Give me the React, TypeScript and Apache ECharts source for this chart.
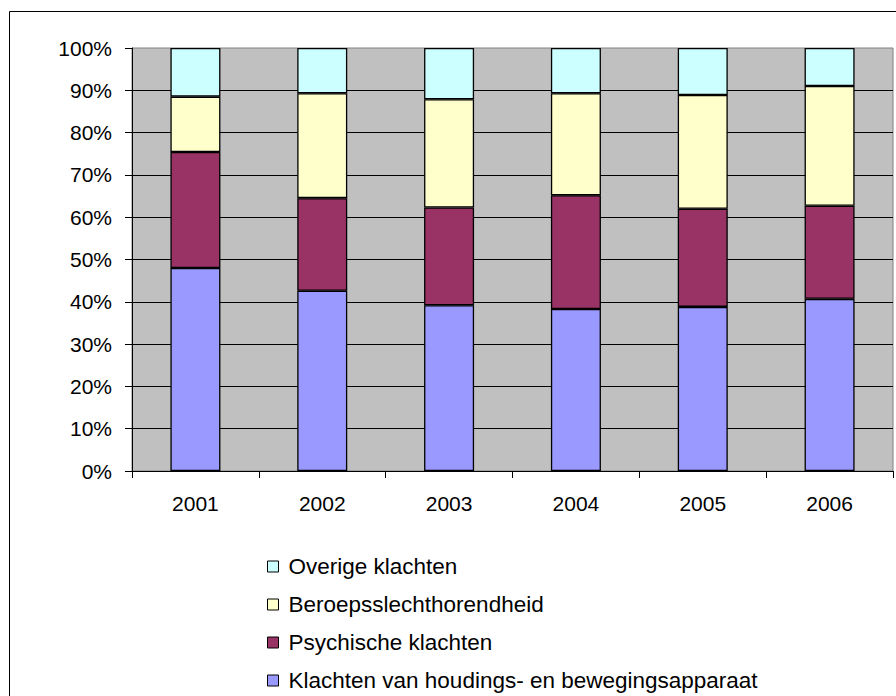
import React, { useEffect, useRef } from "react";
import * as echarts from "echarts";

const years = ["2001", "2002", "2003", "2004", "2005", "2006"];
const houding = [48.0, 42.6, 39.2, 38.3, 38.8, 40.7];
const psychisch = [27.4, 21.9, 23.1, 26.9, 23.2, 22.0];
const beroeps = [13.1, 24.8, 25.6, 24.1, 26.9, 28.3];
const overig = [11.5, 10.7, 12.1, 10.7, 11.1, 9.0];

const names = [
  "Klachten van houdings- en bewegingsapparaat",
  "Psychische klachten",
  "Beroepsslechthorendheid",
  "Overige klachten",
];
const colors = ["#9999FF", "#993366", "#FFFFCC", "#CCFFFF"];
const FONT = "Arial, 'Liberation Sans', sans-serif";

export default function App() {
  const ref = useRef<HTMLDivElement>(null);
  useEffect(() => {
    if (!ref.current) return;
    const chart = echarts.init(ref.current, undefined, { renderer: "svg" });
    const datas = [houding, psychisch, beroeps, overig];
    chart.setOption({
      animation: false,
      backgroundColor: "#FFFFFF",
      textStyle: { fontFamily: FONT },
      graphic: [
        {
          type: "rect",
          shape: { x: 9.5, y: 11.5, width: 1000, height: 1000 },
          style: { fill: "none", stroke: "#000000", lineWidth: 1 },
          silent: true,
          z: 100,
        },
      ],
      grid: {
        left: 132,
        top: 48,
        right: 3,
        bottom: 225,
        show: true,
        backgroundColor: "#C0C0C0",
        borderColor: "#808080",
        borderWidth: 1,
      },
      legend: {
        orient: "vertical",
        left: 267,
        top: 555,
        padding: 0,
        height: 140,
        itemWidth: 11,
        itemHeight: 11,
        itemGap: 15,
        icon: "rect",
        data: names.slice().reverse(),
        itemStyle: { borderColor: "#000000", borderWidth: 1 },
        textStyle: {
          fontFamily: FONT,
          fontSize: 22.5,
          color: "#000000",
          lineHeight: 22,
          padding: [0, 0, 0, 5],
        },
        selectedMode: false,
      },
      xAxis: {
        type: "category",
        data: years,
        axisLine: { lineStyle: { color: "#000000", width: 1 } },
        axisTick: { show: true, length: 7, lineStyle: { color: "#000000" } },
        axisLabel: { color: "#000000", fontSize: 21, fontFamily: FONT, margin: 22 },
        splitLine: { show: false },
      },
      yAxis: {
        type: "value",
        min: 0,
        max: 100,
        interval: 10,
        axisLine: { show: true, lineStyle: { color: "#000000", width: 1 } },
        axisTick: { show: true, length: 7, lineStyle: { color: "#000000" } },
        axisLabel: {
          color: "#000000",
          fontSize: 21,
          fontFamily: FONT,
          margin: 20,
          formatter: "{value}%",
        },
        splitLine: {
          show: true,
          showMaxLine: false,
          lineStyle: { color: "#000000", width: 1 },
        },
      },
      series: names.map((n, i) => ({
        name: n,
        type: "bar",
        stack: "total",
        barWidth: 50,
        data: datas[i],
        itemStyle: { color: colors[i], borderColor: "#000000", borderWidth: 1.3 },
      })),
    });
    return () => chart.dispose();
  }, []);
  return (
    <div
      ref={ref}
      style={{ position: "fixed", left: 0, top: 0, width: 896, height: 696 }}
    />
  );
}
